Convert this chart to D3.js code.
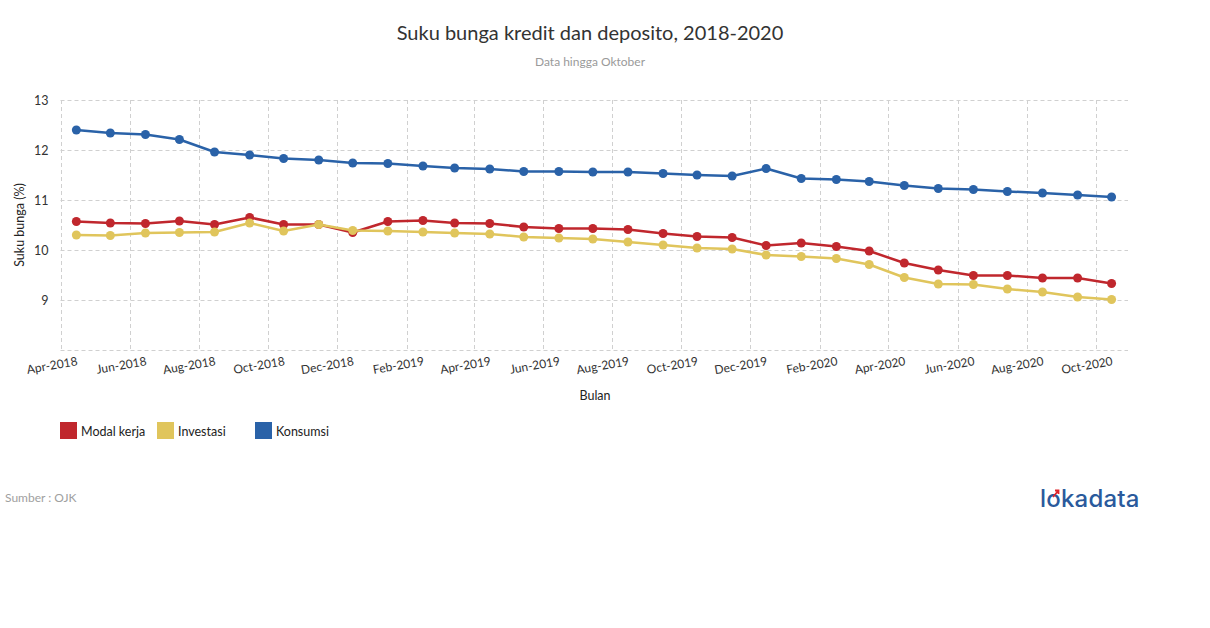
<!DOCTYPE html>
<html>
<head>
<meta charset="utf-8">
<script src="https://cdn.jsdelivr.net/npm/d3@7"></script>
<style>
  html, body { margin: 0; padding: 0; background: #fff; }
  svg { display: block; font-family: Lato, "Open Sans", sans-serif; }
</style>
</head>
<body>
<svg id="chart" width="1210" height="628"></svg>
<script>
// ---- data ----
const months = [
  "2018-04","2018-05","2018-06","2018-07","2018-08","2018-09","2018-10","2018-11","2018-12",
  "2019-01","2019-02","2019-03","2019-04","2019-05","2019-06","2019-07","2019-08","2019-09","2019-10","2019-11","2019-12",
  "2020-01","2020-02","2020-03","2020-04","2020-05","2020-06","2020-07","2020-08","2020-09","2020-10"
];
const modalKerja = [10.57,10.54,10.53,10.58,10.51,10.65,10.51,10.51,10.35,
  10.57,10.59,10.54,10.53,10.46,10.43,10.43,10.41,10.33,10.27,10.25,10.09,
  10.14,10.07,9.98,9.74,9.60,9.49,9.49,9.44,9.44,9.33];
const investasi = [10.30,10.29,10.34,10.35,10.36,10.54,10.38,10.51,10.39,
  10.38,10.36,10.34,10.32,10.26,10.24,10.22,10.16,10.10,10.04,10.02,9.90,
  9.87,9.83,9.71,9.45,9.32,9.31,9.22,9.16,9.06,9.01];
const konsumsi = [12.40,12.34,12.31,12.21,11.96,11.90,11.83,11.80,11.74,
  11.73,11.68,11.64,11.62,11.57,11.57,11.56,11.56,11.53,11.50,11.48,11.63,
  11.43,11.41,11.37,11.29,11.23,11.21,11.17,11.14,11.10,11.06];
const seriesNames = ["Modal kerja","Investasi","Konsumsi"];
const seriesColors = ["#c0272d","#e0c55c","#2a62a8"];
const yTicks = [9,10,11,12,13];
const yGrid = [8,9,10,11,12,13];
const xTickLabels = ["Apr-2018","Jun-2018","Aug-2018","Oct-2018","Dec-2018","Feb-2019","Apr-2019","Jun-2019","Aug-2019","Oct-2019","Dec-2019","Feb-2020","Apr-2020","Jun-2020","Aug-2020","Oct-2020"];

// ---- chart ----
(function () {
const svg = d3.select("#chart");
const parseMonth = d3.timeParse("%Y-%m");
const dates = months.map(m => d3.timeDay.offset(parseMonth(m), 14));
const parseTick = d3.timeParse("%b-%Y");
const tickDates = xTickLabels.map(t => parseTick(t));

const pLeft = 60.5, pRight = 1128, pTop = 100, pBottom = 350;
const x = d3.scaleTime()
  .domain([new Date(2018, 3, 1), new Date(2020, 9, 29, 12)])
  .range([pLeft, pRight]);
const y = d3.scaleLinear().domain([8, 13]).range([pBottom, pTop]);

// title
svg.append("text").attr("x", 590).attr("y", 40).attr("text-anchor", "middle")
  .attr("font-size", 20).attr("fill", "#333").text("Suku bunga kredit dan deposito, 2018-2020");
svg.append("text").attr("x", 590).attr("y", 66).attr("text-anchor", "middle")
  .attr("font-size", 12).attr("fill", "#9a9a9a").text("Data hingga Oktober");

// grid
const grid = svg.append("g");
grid.selectAll("line.h").data(yGrid).join("line").attr("class", "h")
  .attr("x1", pLeft).attr("x2", pRight)
  .attr("y1", d => Math.round(y(d)) + 0.5).attr("y2", d => Math.round(y(d)) + 0.5)
  .attr("stroke", "#d0d0d0").attr("stroke-dasharray", "4,3").attr("stroke-width", 1);
grid.selectAll("line.v").data(tickDates).join("line").attr("class", "v")
  .attr("x1", d => Math.round(x(d)) + 0.5).attr("x2", d => Math.round(x(d)) + 0.5)
  .attr("y1", pTop).attr("y2", pBottom)
  .attr("stroke", "#d0d0d0").attr("stroke-dasharray", "4,3").attr("stroke-width", 1);

// y axis labels
const yAxis = d3.axisLeft(y).tickValues(yTicks).tickFormat(d3.format("d")).tickSize(0).tickPadding(12);
const yg = svg.append("g").attr("transform", `translate(${pLeft},0)`).call(yAxis);
yg.select(".domain").remove();
yg.selectAll("text").attr("font-family", "Lato, sans-serif").attr("font-size", 12.5).attr("fill", "#333");

// x axis labels
const xAxis = d3.axisBottom(x).tickValues(tickDates).tickFormat(d3.timeFormat("%b-%Y")).tickSize(0);
const xg = svg.append("g").attr("transform", `translate(0,${pBottom})`).call(xAxis);
xg.select(".domain").remove();
xg.selectAll("text")
  .attr("font-family", "Lato, sans-serif").attr("font-size", 12).attr("fill", "#333")
  .attr("text-anchor", "end").attr("dy", null).attr("y", null)
  .attr("transform", "translate(17,15) rotate(-10)");

// axis titles
svg.append("text").attr("transform", "translate(24,225) rotate(-90)").attr("text-anchor", "middle")
  .attr("font-size", 12.5).attr("fill", "#222").text("Suku bunga (%)");
svg.append("text").attr("x", 595).attr("y", 400).attr("text-anchor", "middle")
  .attr("font-size", 12.5).attr("fill", "#222").text("Bulan");

// series
const allSeries = [modalKerja, investasi, konsumsi];
const line = d3.line().x((d, i) => x(dates[i])).y(d => y(d));
allSeries.forEach((vals, si) => {
  const g = svg.append("g");
  g.append("path").datum(vals).attr("d", line).attr("fill", "none")
    .attr("stroke", seriesColors[si]).attr("stroke-width", 2.5).attr("stroke-linejoin", "round");
  g.selectAll("circle").data(vals).join("circle")
    .attr("cx", (d, i) => x(dates[i])).attr("cy", d => y(d)).attr("r", 4.5)
    .attr("fill", seriesColors[si]);
});

// legend
const legendX = [60, 157, 255];
const lg = svg.append("g");
seriesNames.forEach((n, i) => {
  lg.append("rect").attr("x", legendX[i]).attr("y", 422).attr("width", 17).attr("height", 17)
    .attr("fill", seriesColors[i]);
  lg.append("text").attr("x", legendX[i] + 21).attr("y", 435.5).attr("font-size", 12.5)
    .attr("fill", "#222").text(n);
});

// source
svg.append("text").attr("x", 5).attr("y", 502).attr("font-size", 12).attr("fill", "#a0a0a0").text("Sumber : OJK");

// logo
const logo = svg.append("g");
logo.append("text").attr("x", 1040).attr("y", 507).attr("font-size", 24).attr("font-weight", 500)
  .attr("font-family", "Inter, 'Open Sans', sans-serif").attr("letter-spacing", 0.2)
  .attr("fill", "#2a5a9c").text("lokadata");
logo.append("path").attr("d", "M1053,497 L1058,491 M1055,490.5 L1058.5,490.5 L1058.5,494")
  .attr("stroke", "#e0262b").attr("stroke-width", 1.8).attr("fill", "none");
})();
</script>
</body>
</html>
